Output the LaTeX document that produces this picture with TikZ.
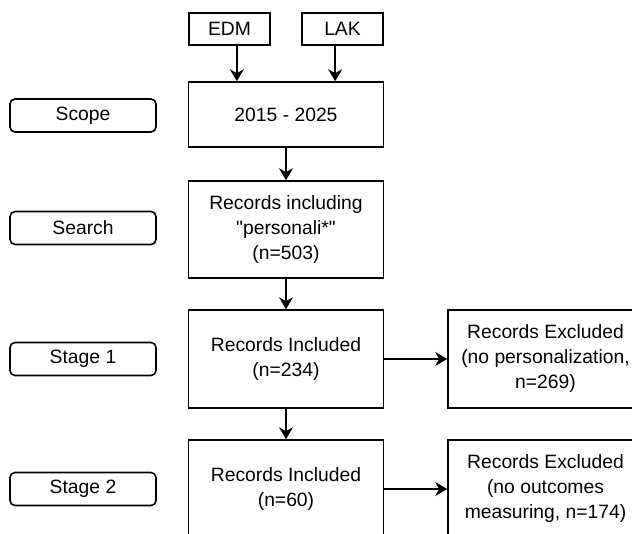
\documentclass[tikz,border=0pt]{standalone}
\usepackage{fontspec}
\newfontfamily\plainsans{Liberation Sans}
\usetikzlibrary{arrows.meta,calc}

\begin{document}
\begin{tikzpicture}[x=1pt,y=-1pt,>={Stealth[length=12pt,width=14pt,inset=4pt]},
  box/.style={draw,line width=1.6pt,align=center,inner sep=0pt,font=\plainsans\fontsize{19.3}{25}\selectfont},
  stagebox/.style={box,rounded corners=5pt,minimum width=146pt,minimum height=33pt},
  flow/.style={->,line width=1.6pt}]
\clip(0,0)rectangle(632,533);
\node[box,minimum width=81pt,minimum height=32pt](edm)at(229.5,29){EDM};
\node[box,minimum width=81pt,minimum height=32pt](lak)at(342.5,29){LAK};
\node[box,minimum width=195pt,minimum height=65pt](scope)at(286,114.5){2015 - 2025};
\node[box,minimum width=195pt,minimum height=97pt](search)at(286,229.5){Records including\\"personali*"\\(n=503)};
\node[box,minimum width=195pt,minimum height=98pt](inc1)at(286,359){Records Included\\(n=234)};
\node[box,minimum width=195pt,minimum height=98pt](inc2)at(286,489){Records Included\\(n=60)};
\node[box,minimum width=195pt,minimum height=98pt](exc1)at(545.5,359){Records Excluded\\(no personalization,\\n=269)};
\node[box,minimum width=195pt,minimum height=98pt](exc2)at(545.5,489){Records Excluded\\(no outcomes\\measuring, n=174)};
\node[stagebox](lscope)at(83,115.5){Scope};
\node[stagebox](lsearch)at(83,228){Search};
\node[stagebox](lstage1)at(83,359){Stage 1};
\node[stagebox](lstage2)at(83,489){Stage 2};
\coordinate(in1)at($(scope.north)!0.5!(scope.north west)$);
\coordinate(in2)at($(scope.north)!0.5!(scope.north east)$);
\draw[flow](edm.south-|in1)--(in1);
\draw[flow](lak.south-|in2)--(in2);
\draw[flow](scope)--(search);
\draw[flow](search)--(inc1);
\draw[flow](inc1)--(inc2);
\draw[flow](inc1)--(exc1);
\draw[flow](inc2)--(exc2);
\end{tikzpicture}
\end{document}
